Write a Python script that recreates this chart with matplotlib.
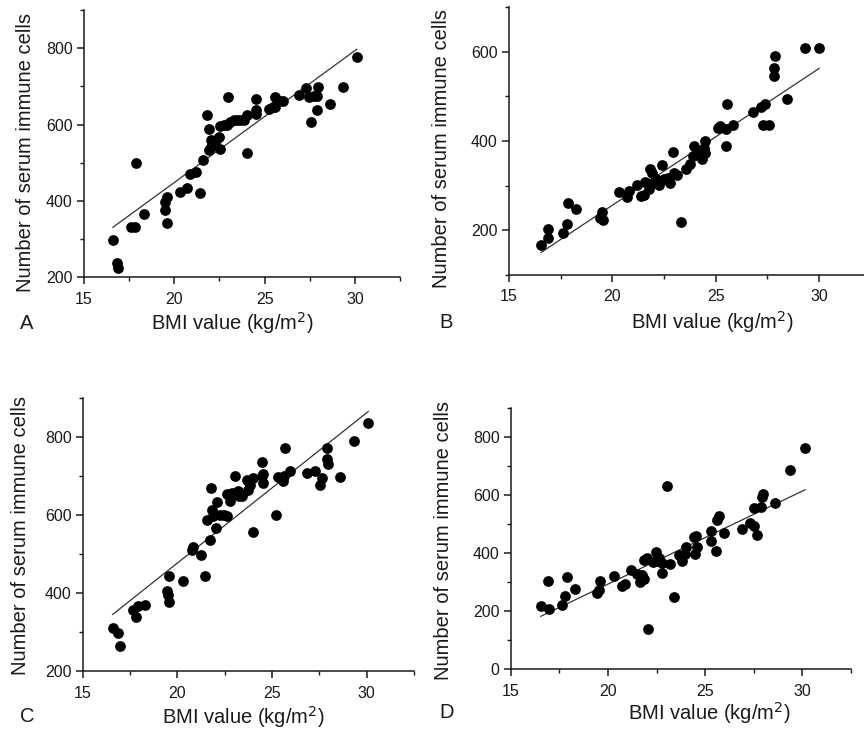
import numpy as np
import matplotlib
matplotlib.use("Agg")
import matplotlib.pyplot as plt
from matplotlib.ticker import MultipleLocator

plt.rcParams["font.family"] = ["Liberation Sans", "DejaVu Sans"]

# Panel A
BMI_A = [16.6, 16.85, 16.9, 17.6, 17.8, 17.9, 18.3, 19.5, 19.5, 19.6, 19.6, 20.3, 20.7,
         20.85, 21.2, 21.45, 21.6, 21.8, 21.9, 21.9, 22.05, 22.05, 22.3, 22.5, 22.55, 22.55,
         22.75, 22.9, 23.0, 23.1, 23.3, 23.5, 23.65, 23.85, 24.0, 24.0, 24.5, 24.55, 24.55,
         25.25, 25.45, 25.6, 25.6, 25.85, 26.0, 26.9, 27.3, 27.45, 27.55, 27.75, 27.9, 27.9,
         27.95, 28.6, 29.35, 30.1]
CELLS_A = [296, 237, 224, 330, 330, 500, 365, 376, 398, 411, 343, 422, 434,
           469, 476, 421, 507, 624, 589, 533, 541, 559, 559, 568, 535, 595,
           598, 598, 672, 607, 611, 611, 611, 611, 624, 526, 629, 637, 668,
           642, 646, 646, 672, 663, 663, 678, 697, 672, 607, 676, 637, 676,
           698, 655, 698, 778]
FIT_A = (34.6, -244)

# Panel B
BMI_B = [16.55, 16.87, 16.9, 17.6, 17.8, 17.85, 18.25, 19.4, 19.5, 19.55, 20.3, 20.7, 20.8,
         21.2, 21.4, 21.55, 21.6, 21.75, 21.8, 21.9, 21.95, 22.1, 22.4, 22.25, 22.5, 22.7,
         22.8, 22.95, 23.0, 23.15, 23.3, 23.55, 23.75, 23.9, 23.95, 24.1, 24.35, 24.45, 24.5,
         24.5, 25.1, 25.2, 25.5, 25.5, 25.55, 25.85, 26.8, 27.2, 27.4, 27.3, 27.55, 27.8,
         27.8, 27.85, 28.45, 29.3, 30.0]
CELLS_B = [166, 202, 182, 193, 213, 262, 247, 228, 240, 223, 286, 275, 288,
           302, 277, 279, 308, 293, 337, 329, 307, 314, 347, 301, 314, 318,
           307, 376, 329, 325, 219, 337, 348, 366, 389, 370, 359, 385, 400,
           374, 430, 434, 389, 426, 482, 436, 465, 477, 484, 435, 435, 545,
           564, 590, 495, 609, 609]
FIT_B = (30.7, -358)

# Panel C
BMI_C = [16.57, 16.87, 16.96, 17.63, 17.8, 17.93, 18.28, 19.46, 19.48, 19.57, 19.57, 20.3,
         20.75, 20.83, 21.22, 21.45, 21.7, 21.57, 21.77, 21.84, 21.89, 22.03, 22.07, 22.25,
         22.46, 22.6, 22.6, 22.77, 22.86, 23.04, 23.18, 23.27, 23.43, 23.65, 23.74, 23.83,
         24.01, 24.01, 24.47, 24.5, 24.54, 24.45, 25.21, 25.29, 25.56, 25.65, 25.68, 25.95,
         26.86, 27.27, 27.53, 27.62, 27.89, 27.89, 27.97, 28.59, 29.35, 30.09]
CELLS_C = [310, 297, 263, 357, 338, 367, 368, 406, 395, 443, 377, 431,
           509, 517, 498, 444, 537, 588, 670, 614, 597, 567, 634, 601,
           599, 597, 654, 635, 657, 700, 661, 648, 648, 689, 665, 678,
           695, 556, 736, 706, 683, 700, 601, 697, 687, 700, 773, 713,
           708, 713, 678, 695, 771, 743, 730, 697, 791, 837]
FIT_C = (38.5, -293)

# Panel D
BMI_D = [16.55, 16.95, 16.9, 17.63, 17.78, 17.92, 18.3, 19.46, 19.54, 19.6, 20.33, 20.74,
         20.86, 21.2, 21.5, 21.63, 21.77, 21.85, 21.87, 22.02, 22.07, 22.31, 22.48, 22.53,
         22.65, 22.79, 22.79, 23.05, 23.18, 23.42, 23.64, 23.81, 23.95, 24.02, 24.41, 24.5,
         24.55, 24.58, 25.29, 25.29, 25.58, 25.63, 25.7, 25.97, 26.89, 27.32, 27.49, 27.52,
         27.69, 27.86, 27.92, 27.97, 28.6, 29.37, 30.14]
CELLS_D = [216, 206, 302, 220, 251, 317, 277, 262, 273, 302, 320, 286,
           292, 340, 328, 300, 323, 311, 374, 383, 136, 368, 403, 372,
           383, 332, 365, 629, 360, 248, 391, 371, 397, 420, 454, 397,
           458, 420, 474, 439, 406, 514, 525, 468, 483, 502, 491, 555,
           462, 557, 592, 603, 571, 685, 760]
FIT_D = (32.05, -349)

PANELS = ["A", "B", "C", "D"]
XLABEL = "BMI value (kg/m$^{2}$)"
YLABEL = "Number of serum immune cells"

fig = plt.figure(figsize=(8.64, 7.29), dpi=100)

# axes rectangles (figure fractions), y limits, and label positions
rects = [[0.0972, 0.620, 0.3658, 0.366],
         [0.589, 0.623, 0.419, 0.367],
         [0.096, 0.0796, 0.383, 0.3744],
         [0.591, 0.0823, 0.394, 0.3587]]
ylims = [(200, 900), (100, 700), (200, 900), (0, 900)]
xlab_pos = [(0.2685, 0.557), (0.824, 0.558), (0.281, 0.017), (0.821, 0.022)]
ylab_pos = [(0.029, 0.791), (0.511, 0.796), (0.024, 0.266), (0.513, 0.258)]
letter_pos = [(0.023, 0.556), (0.508, 0.557), (0.023, 0.017), (0.508, 0.022)]

data = [(BMI_A, CELLS_A, FIT_A), (BMI_B, CELLS_B, FIT_B),
        (BMI_C, CELLS_C, FIT_C), (BMI_D, CELLS_D, FIT_D)]

ink = "#1a1a1a"
for i, (bmi, cells, fit) in enumerate(data):
    ax = fig.add_axes(rects[i])
    bmi = np.array(bmi)
    ax.scatter(bmi, cells, s=60, color="black", zorder=3, linewidths=0)
    xs = np.array([bmi.min(), bmi.max()])
    ax.plot(xs, fit[0] * xs + fit[1], color="#333333", lw=0.9, zorder=2)

    ax.set_xlim(15, 32.5)
    ax.set_ylim(*ylims[i])
    ax.xaxis.set_major_locator(MultipleLocator(5))
    ax.xaxis.set_minor_locator(MultipleLocator(2.5))
    ax.yaxis.set_major_locator(MultipleLocator(200))
    ax.yaxis.set_minor_locator(MultipleLocator(100))
    for side in ["top", "right"]:
        ax.spines[side].set_visible(False)
    for side in ["left", "bottom"]:
        ax.spines[side].set_linewidth(1.1)
        ax.spines[side].set_color(ink)
    ax.tick_params(which="major", direction="out", length=5, width=1.1,
                   color=ink, labelsize=11.5, labelcolor=ink, pad=3)
    ax.tick_params(axis="x", which="major", pad=5.5)
    ax.tick_params(which="minor", direction="out", length=3, width=1.0, color=ink)

    ax.set_xlabel(XLABEL, fontsize=14.5, color=ink, va="center")
    ax.xaxis.set_label_coords(*xlab_pos[i], transform=fig.transFigure)
    ax.set_ylabel(YLABEL, fontsize=14.5, color=ink, va="center")
    ax.yaxis.set_label_coords(*ylab_pos[i], transform=fig.transFigure)
    fig.text(*letter_pos[i], PANELS[i], fontsize=14.5, color=ink, va="center", ha="left")

fig.savefig("out.png", dpi=100)
